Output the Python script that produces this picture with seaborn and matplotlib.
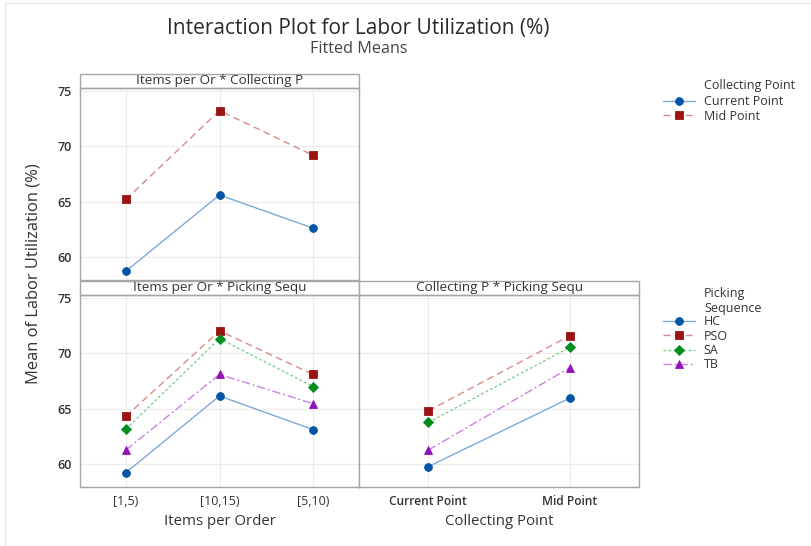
import pandas as pd
import matplotlib.pyplot as plt
import matplotlib.patches as mpatches
from matplotlib.lines import Line2D
import seaborn as sns

# === 1. Data ===
items = ['[1,5)', '[10,15)', '[5,10)']
collect = ['Current Point', 'Mid Point']
seq = ['HC', 'PSO', 'SA', 'TB']

ic_current = [58.7, 65.6, 62.6]
ic_mid = [65.2, 73.25, 69.2]

is_hc = [59.2, 66.15, 63.1]
is_pso = [64.3, 72.05, 68.1]
is_sa = [63.15, 71.35, 67.0]
is_tb = [61.25, 68.1, 65.45]

cs_hc = [59.75, 65.95]
cs_pso = [64.8, 71.6]
cs_sa = [63.75, 70.55]
cs_tb = [61.25, 68.7]

# === 2. Long-form tables ===
def long_df(xcats, series, hue_name):
    rows = []
    for name, vals in series.items():
        for x, v in zip(xcats, vals):
            rows.append({'x': x, 'y': v, hue_name: name})
    return pd.DataFrame(rows)

df_ic = long_df(items, {'Current Point': ic_current, 'Mid Point': ic_mid}, 'cp')
df_is = long_df(items, {'HC': is_hc, 'PSO': is_pso, 'SA': is_sa, 'TB': is_tb}, 'ps')
df_cs = long_df(collect, {'HC': cs_hc, 'PSO': cs_pso, 'SA': cs_sa, 'TB': cs_tb}, 'ps')

# === 3. Styles ===
dark = {'HC': '#0054a6', 'PSO': '#9b1212', 'SA': '#008c1e', 'TB': '#9012b8'}
light = {'HC': '#7ea9d8', 'PSO': '#d98c8c', 'SA': '#7fcf8a', 'TB': '#c982e0'}
marks = {'HC': 'o', 'PSO': 's', 'SA': 'D', 'TB': '^'}
msize = {'HC': 5.6, 'PSO': 5.4, 'SA': 4.6, 'TB': 6.2}
dashes = {'HC': '-', 'PSO': (0, (5, 3)), 'SA': (0, (2, 1.6)), 'TB': (0, (6, 2, 1.5, 2))}
cp_key = {'Current Point': 'HC', 'Mid Point': 'PSO'}

sns.set_theme(style='white')
plt.rcParams['font.family'] = ['Open Sans', 'DejaVu Sans']
TXT = '#333333'
EDGE = '#a6a6a6'
YLIM = (57.9, 75.3)

fig = plt.figure(figsize=(8.11, 5.46), dpi=100)
ax_tl = fig.add_axes([80 / 811, 1 - 280 / 546, 279 / 811, 192 / 546])
ax_bl = fig.add_axes([80 / 811, 1 - 487 / 546, 279 / 811, 192 / 546])
ax_br = fig.add_axes([359 / 811, 1 - 487 / 546, 280 / 811, 192 / 546])


def draw(ax, data, hue, order, hue_order, keymap):
    sns.pointplot(data=data, x='x', y='y', hue=hue, order=order, hue_order=hue_order,
                  errorbar=None, legend=False, ax=ax)
    for line, lvl in zip(ax.lines, hue_order):
        k = keymap(lvl)
        line.set_color(light[k])
        line.set_linestyle(dashes[k])
        line.set_linewidth(1.0)
        line.set_marker(marks[k])
        line.set_markersize(msize[k])
        line.set_markeredgewidth(0.6)
        line.set_markerfacecolor(dark[k])
        line.set_markeredgecolor(dark[k])
        line.set_zorder(3)


draw(ax_tl, df_ic, 'cp', items, collect, lambda l: cp_key[l])
draw(ax_bl, df_is, 'ps', items, seq, lambda l: l)
draw(ax_br, df_cs, 'ps', collect, seq, lambda l: l)

strips = {ax_tl: 'Items per Or * Collecting P',
          ax_bl: 'Items per Or * Picking Sequ',
          ax_br: 'Collecting P * Picking Sequ'}

for ax, ncat in [(ax_tl, 3), (ax_bl, 3), (ax_br, 2)]:
    ax.set_xlim(-0.49, ncat - 0.51)
    ax.set_ylim(*YLIM)
    ax.set_yticks([60, 65, 70, 75])
    ax.grid(True, color='#ececec', linewidth=0.8, zorder=0)
    ax.set_axisbelow(True)
    for sp in ax.spines.values():
        sp.set_color(EDGE)
        sp.set_linewidth(1.0)
    ax.tick_params(axis='both', direction='out', length=3, width=0.8, color=EDGE,
                   labelsize=9, labelcolor=TXT, pad=3)
    ax.set_ylabel('')
    ax.set_xlabel('')
    # strip on top
    h = 14 / 192
    ax.add_patch(mpatches.Rectangle((0, 1), 1, h, transform=ax.transAxes, clip_on=False,
                                    facecolor='white', edgecolor=EDGE, linewidth=1.0))
    ax.text(0.5, 1 + h / 2, strips[ax], transform=ax.transAxes, ha='center', va='center',
            fontsize=9.7, color=TXT)

for lab in ax_tl.get_yticklabels() + ax_bl.get_yticklabels():
    lab.set_fontweight('semibold')
ax_tl.tick_params(axis='x', labelbottom=False, length=0)
ax_br.tick_params(axis='y', left=False, labelleft=False)
ax_br.tick_params(axis='x', labelsize=8.6)
for lab in ax_br.get_xticklabels():
    lab.set_fontweight('semibold')

ax_bl.set_xlabel('Items per Order', fontsize=10.8, color=TXT, labelpad=4)
ax_br.set_xlabel('Collecting Point', fontsize=10.8, color=TXT, labelpad=4)

fig.text(0.041, 0.498, 'Mean of Labor Utilization (%)', rotation=90, ha='center', va='center',
         fontsize=11.9, color=TXT)
fig.text(0.442, 0.948, 'Interaction Plot for Labor Utilization (%)', ha='center', va='center',
         fontsize=15, color='#2b2b2b')
fig.text(0.442, 0.91, 'Fitted Means', ha='center', va='center', fontsize=11.6, color='#444444')

# === 4. Legends ===
def handle(k):
    return Line2D([], [], color=light[k], linestyle=dashes[k], linewidth=1.0, marker=marks[k],
                  markersize=msize[k], markeredgewidth=0.6,
                  markerfacecolor=dark[k], markeredgecolor=dark[k])

leg_kw = dict(loc='upper left', frameon=False, fontsize=9, handlelength=2.56,
              handletextpad=0.7, labelspacing=0.12, borderaxespad=0, borderpad=0)
leg1 = fig.legend([handle('HC'), handle('PSO')], collect,
                  bbox_to_anchor=(663 / 811, 1 - 95 / 546), **leg_kw)
leg2 = fig.legend([handle(k) for k in seq], seq,
                  bbox_to_anchor=(663 / 811, 1 - 315 / 546), **leg_kw)
for leg in (leg1, leg2):
    for t in leg.get_texts():
        t.set_color(TXT)

fig.text(704 / 811, 1 - 86 / 546, 'Collecting Point', ha='left', va='center',
         fontsize=9, color=TXT)
fig.text(704 / 811, 1 - 301 / 546, 'Picking\nSequence', ha='left', va='center',
         fontsize=9, color=TXT, linespacing=1.15)

# faint outer frame of the original graph window
fig.add_artist(mpatches.Rectangle((5 / 811, 0.0), 1.0, 1 - 3 / 546, transform=fig.transFigure,
                                  fill=False, edgecolor='#e6e6e6', linewidth=0.8))

fig.savefig('out.png', dpi=100)
plt.close(fig)
